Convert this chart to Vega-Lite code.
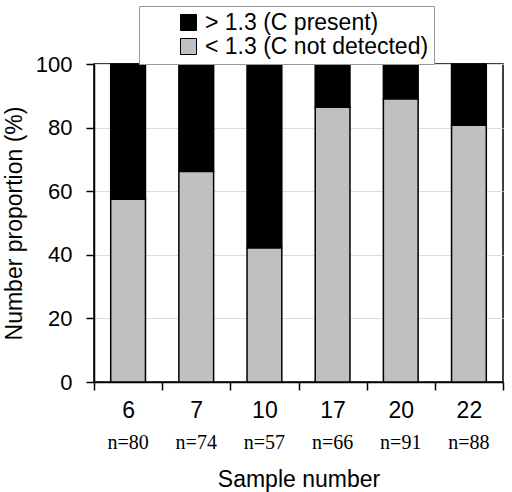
{
  "$schema": "https://vega.github.io/schema/vega-lite/v6.json",
  "width": 409,
  "height": 318,
  "autosize": {"type": "none"},
  "padding": {"left": 94, "top": 64, "right": 9, "bottom": 110},
  "background": "white",
  "config": {
    "font": "Liberation Sans",
    "view": {"stroke": "black", "strokeWidth": 1.5},
    "axis": {"domainColor": "black", "domainWidth": 1.5, "tickColor": "black", "tickWidth": 1.5, "labelColor": "black", "titleColor": "black", "titleFontWeight": "normal", "labelFont": "Liberation Sans", "titleFont": "Liberation Sans"}
  },
  "data": {
    "values": [
      {"cat": "6|n=80", "group": "> 1.3 (C present)", "value": 42.5},
      {"cat": "6|n=80", "group": "< 1.3 (C not detected)", "value": 57.5},
      {"cat": "7|n=74", "group": "> 1.3 (C present)", "value": 33.8},
      {"cat": "7|n=74", "group": "< 1.3 (C not detected)", "value": 66.2},
      {"cat": "10|n=57", "group": "> 1.3 (C present)", "value": 57.9},
      {"cat": "10|n=57", "group": "< 1.3 (C not detected)", "value": 42.1},
      {"cat": "17|n=66", "group": "> 1.3 (C present)", "value": 13.6},
      {"cat": "17|n=66", "group": "< 1.3 (C not detected)", "value": 86.4},
      {"cat": "20|n=91", "group": "> 1.3 (C present)", "value": 11.0},
      {"cat": "20|n=91", "group": "< 1.3 (C not detected)", "value": 89.0},
      {"cat": "22|n=88", "group": "> 1.3 (C present)", "value": 19.3},
      {"cat": "22|n=88", "group": "< 1.3 (C not detected)", "value": 80.7}
    ]
  },
  "layer": [
    {
      "mark": {"type": "bar", "width": {"band": 0.51}, "stroke": "black", "strokeWidth": 1.5},
      "encoding": {
        "x": {
          "field": "cat", "type": "nominal", "sort": null,
          "scale": {"paddingInner": 0, "paddingOuter": 0},
          "axis": {"orient": "bottom", "labelExpr": "split(datum.label, '|')[0]", "labelAngle": 0, "tickBand": "extent", "tickSize": 8, "labelFontSize": 23, "labelPadding": 9, "title": null}
        },
        "y": {
          "field": "value", "type": "quantitative", "stack": "zero",
          "scale": {"domain": [0, 100]},
          "axis": {"values": [0, 20, 40, 60, 80, 100], "grid": true, "gridColor": "#dddddd", "gridWidth": 1, "tickSize": 8, "labelPadding": 14, "labelFontSize": 22, "title": "Number proportion (%)", "titleFontSize": 23, "titlePadding": 9}
        },
        "color": {
          "field": "group", "type": "nominal",
          "scale": {"domain": ["> 1.3 (C present)", "< 1.3 (C not detected)"], "range": ["#000000", "#c0c0c0"]},
          "legend": {
            "title": null, "orient": "none", "legendX": 45, "legendY": -58,
            "direction": "vertical", "symbolType": "square", "symbolSize": 256,
            "symbolStrokeColor": "black", "symbolStrokeWidth": 1, "symbolOffset": 33,
            "labelFontSize": 23, "labelColor": "black", "labelOffset": 5, "labelLimit": 400,
            "rowPadding": -1, "padding": 5, "strokeColor": "#999999", "fillColor": "white"
          }
        },
        "order": {"field": "group", "sort": "ascending"}
      }
    },
    {
      "mark": {"type": "bar", "opacity": 0},
      "encoding": {
        "x": {
          "field": "cat", "type": "nominal", "sort": null,
          "axis": {"orient": "bottom", "labelExpr": "split(datum.label, '|')[1]", "labelAngle": 0, "ticks": false, "domain": false, "labelFont": "Liberation Serif", "labelFontSize": 20, "labelPadding": 50, "title": "Sample number", "titleFontSize": 23, "titlePadding": 16}
        },
        "y": {"field": "value", "type": "quantitative", "stack": "zero"}
      }
    }
  ],
  "resolve": {"axis": {"x": "independent"}}
}
